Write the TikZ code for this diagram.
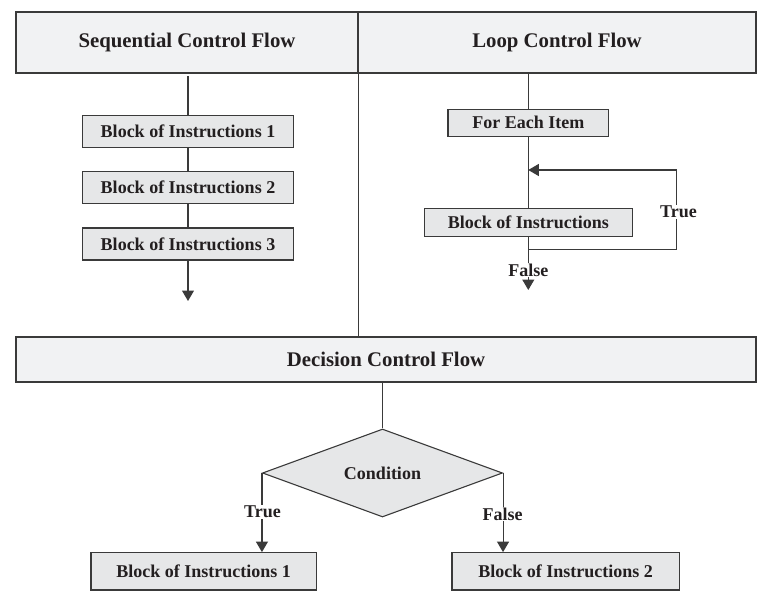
\documentclass[tikz,border=0pt]{standalone}
\usepackage{fontspec}
\setmainfont{Liberation Serif}
\usetikzlibrary{shapes.geometric,arrows.meta}
\definecolor{hdrfill}{HTML}{F1F2F3}
\definecolor{boxfill}{HTML}{E6E7E8}
\definecolor{ink}{HTML}{231F20}
\definecolor{edge}{HTML}{3A3A3A}
\begin{document}
\begin{tikzpicture}[x=1pt,y=-1pt,
  every node/.style={text=ink,font=\fontsize{18}{21}\selectfont\bfseries},
  hdr/.style={draw=edge,line width=1.1pt,fill=hdrfill,inner sep=0pt,
    font=\fontsize{20.8}{24}\selectfont\bfseries},
  blockbox/.style={draw=edge,line width=1.1pt,fill=boxfill,inner sep=0pt},
  lbl/.style={fill=white,inner sep=1pt},
  conn/.style={draw=edge,line width=1.1pt},
  arr/.style={conn,-{Triangle[length=10.5pt,width=12pt]}}]
\useasboundingbox (0,0) rectangle (764,605);
% headers
\node[hdr,minimum width=342pt,minimum height=61pt] (seqhdr) at (187,42.5) {Sequential Control Flow};
\node[hdr,minimum width=398pt,minimum height=61pt] (loophdr) at (557,42.5) {Loop Control Flow};
\node[hdr,minimum width=740pt,minimum height=45pt] (dechdr) at (386,359.5) {Decision Control Flow};
\draw[conn] (seqhdr.south east) -- (seqhdr.east |- dechdr.north);
% sequential
\coordinate (s0) at (188,76);
\coordinate (s4) at (188,301);
\node[blockbox,minimum width=211pt,minimum height=32pt] (b1) at (188,131.3) {Block of Instructions 1};
\node[blockbox,minimum width=211pt,minimum height=32pt] (b2) at (188,187.7) {Block of Instructions 2};
\node[blockbox,minimum width=211pt,minimum height=32pt] (b3) at (188,244) {Block of Instructions 3};
\draw[conn] (s0) -- (b1.north);
\draw[conn] (b1.south) -- (b2.north);
\draw[conn] (b2.south) -- (b3.north);
\draw[arr] (b3.south) -- (s4);
% loop
\coordinate (l0) at (528.3,73);
\node[blockbox,minimum width=160.6pt,minimum height=27.3pt] (fe) at (528.3,122.7) {For Each Item};
\node[blockbox,minimum width=208pt,minimum height=27.7pt] (blk) at (528.3,222.2) {Block of Instructions};
\coordinate (j1) at (528.3,170);
\coordinate (r1) at (676.7,170);
\coordinate (r2) at (676.7,249.3);
\coordinate (j2) at (528.3,249.3);
\coordinate (lend) at (528.3,290);
\draw[conn] (l0) -- (fe.north);
\draw[conn] (fe.south) -- (blk.north);
\draw[arr] (r2) -- (r1) -- (j1);
\draw[conn] (blk.south) -- (j2) -- (r2);
\draw[arr] (j2) -- (lend);
\node[lbl] (ltrue) at (678.5,211.7) {True};
\node[lbl] (lfalse) at (528.3,270) {False};
% decision
\node[diamond,draw=edge,line width=1.1pt,fill=boxfill,inner sep=0pt,
  minimum width=240pt,minimum height=88pt,aspect=2.727] (cond) at (382.5,473) {Condition};
\draw[conn] (cond.north |- dechdr.south) -- (cond.north);
\node[blockbox,minimum width=225.5pt,minimum height=37.3pt] (lb) at (203.7,571.3) {Block of Instructions 1};
\node[blockbox,minimum width=227.3pt,minimum height=37.3pt] (rb) at (565.6,571.3) {Block of Instructions 2};
\draw[arr] (cond.west) -- (cond.west |- lb.north);
\draw[arr] (cond.east) -- (cond.east |- rb.north);
\node[lbl] (dtrue) at (262.5,511.7) {True};
\node[lbl] (dfalse) at (502.5,514) {False};
\end{tikzpicture}
\end{document}
